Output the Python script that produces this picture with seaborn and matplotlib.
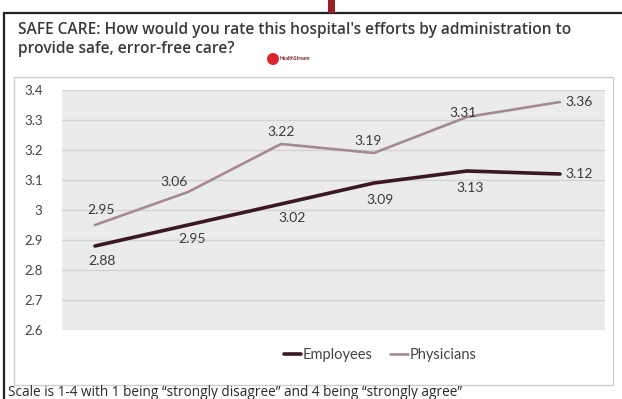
import numpy as np
import pandas as pd
import seaborn as sns
import matplotlib.pyplot as plt
from matplotlib.patches import Rectangle, Ellipse

# Survey waves (no axis labels shown in the original)
waves = [1, 2, 3, 4, 5, 6]
employees = [2.88, 2.95, 3.02, 3.09, 3.13, 3.12]
physicians = [2.95, 3.06, 3.22, 3.19, 3.31, 3.36]
series_names = ["Employees", "Physicians"]
yticks = [2.6, 2.7, 2.8, 2.9, 3.0, 3.1, 3.2, 3.3, 3.4]
ytick_labels = ["2.6", "2.7", "2.8", "2.9", "3", "3.1", "3.2", "3.3", "3.4"]

df = pd.DataFrame({
    "wave": waves * 2,
    "score": employees + physicians,
    "group": [series_names[0]] * len(waves) + [series_names[1]] * len(waves),
})

sns.set_style("white")
plt.rcParams["font.family"] = ["Lato", "DejaVu Sans"]

W, H = 622, 399
fig = plt.figure(figsize=(W / 100, H / 100), dpi=100)

def box(x0, y0, x1, y1):
    # pixel box (top-left origin) -> figure fraction rect
    return [x0 / W, 1 - y1 / H, (x1 - x0) / W, (y1 - y0) / H]

# outer frame, red tab and chart box
fig.patches.append(Rectangle((4 / W, -0.01), 1.0, 1 - 13 / H + 0.01, transform=fig.transFigure,
                             fill=False, edgecolor="#222222", linewidth=1.6))
fig.patches.append(Rectangle((328 / W, 1 - 13 / H), 7 / W, 13 / H, transform=fig.transFigure,
                             facecolor="#9a1f24", edgecolor="none"))
fig.patches.append(Rectangle((14 / W, 1 - 385 / H), 599 / W, 308 / H, transform=fig.transFigure,
                             fill=False, edgecolor="#cfcfcf", linewidth=1.0))

# title and logo
title_font = ["Open Sans", "DejaVu Sans"]
fig.text(18 / W, 1 - 30 / H, "SAFE CARE: How would you rate this hospital's efforts by administration to",
         fontsize=11.2, color="#3a3a3a", va="center", ha="left", fontweight="semibold", family=title_font)
fig.text(18 / W, 1 - 49 / H, "provide safe, error-free care?",
         fontsize=11.2, color="#3a3a3a", va="center", ha="left", fontweight="semibold", family=title_font)
fig.patches.append(Ellipse((273 / W, 1 - 59 / H), 12 / W, 12 / H, transform=fig.transFigure,
                           facecolor="#d8262e", edgecolor="none"))
fig.text(280 / W, 1 - 59 / H, "HealthStream", fontsize=3.6, color="#7a1a1a", va="center", ha="left",
         fontweight="bold")

ax = fig.add_axes(box(62, 90, 605, 330))
ax.set_facecolor("#ebebeb")

palette = {"Employees": "#3b1823", "Physicians": "#a48a93"}
sns.lineplot(data=df, x="wave", y="score", hue="group", palette=palette, ax=ax, legend=False,
             linewidth=2.0)
ax.lines[0].set_linewidth(2.6)
ax.lines[1].set_linewidth(1.9)

ax.set_ylim(2.6, 3.4)
ax.set_xlim(1 - 0.355, 6.484)
ax.set_yticks(yticks)
ax.set_yticklabels(ytick_labels)
ax.set_xticks([])
ax.set_xlabel("")
ax.set_ylabel("")
ax.tick_params(axis="y", length=0, pad=14, labelsize=9.5, labelcolor="#444444")
for lab in ax.get_yticklabels():
    lab.set_horizontalalignment("right")
ax.yaxis.grid(True, color="#d2d2d2", linewidth=1.0)
ax.set_axisbelow(True)
for s in ax.spines.values():
    s.set_visible(False)

# data labels
phys_off = [(4, 11), (-10, 7), (0, 9), (-4, 9), (-3, 3), (14, 0)]
emp_off = [(5, -11), (3, -10), (8, -10), (4, -12), (2, -12), (14, 0)]
for i, (xv, yv) in enumerate(zip(waves, physicians)):
    ax.annotate(f"{yv:.2f}", (xv, yv), xytext=phys_off[i], textcoords="offset points",
                ha="center", va="center", fontsize=10, color="#3a3a3a")
for i, (xv, yv) in enumerate(zip(waves, employees)):
    ax.annotate(f"{yv:.2f}", (xv, yv), xytext=emp_off[i], textcoords="offset points",
                ha="center", va="center", fontsize=10, color="#3a3a3a")

# legend
handles = [plt.Line2D([], [], color=palette["Employees"], linewidth=2.6),
           plt.Line2D([], [], color=palette["Physicians"], linewidth=1.9)]
fig.legend(handles, series_names, loc="center", bbox_to_anchor=(380 / W, 1 - 355 / H), ncol=2,
           frameon=False, fontsize=10.5, handlelength=1.2, handletextpad=0.1, columnspacing=1.2,
           labelcolor="#444444")

fig.text(8 / W, 1 - 392 / H,
         "Scale is 1-4 with 1 being \u201cstrongly disagree\u201d and 4 being \u201cstrongly agree\u201d",
         fontsize=9.8, color="#2a2a2a", va="center", ha="left", family=title_font)

fig.savefig("out.png", dpi=100)
